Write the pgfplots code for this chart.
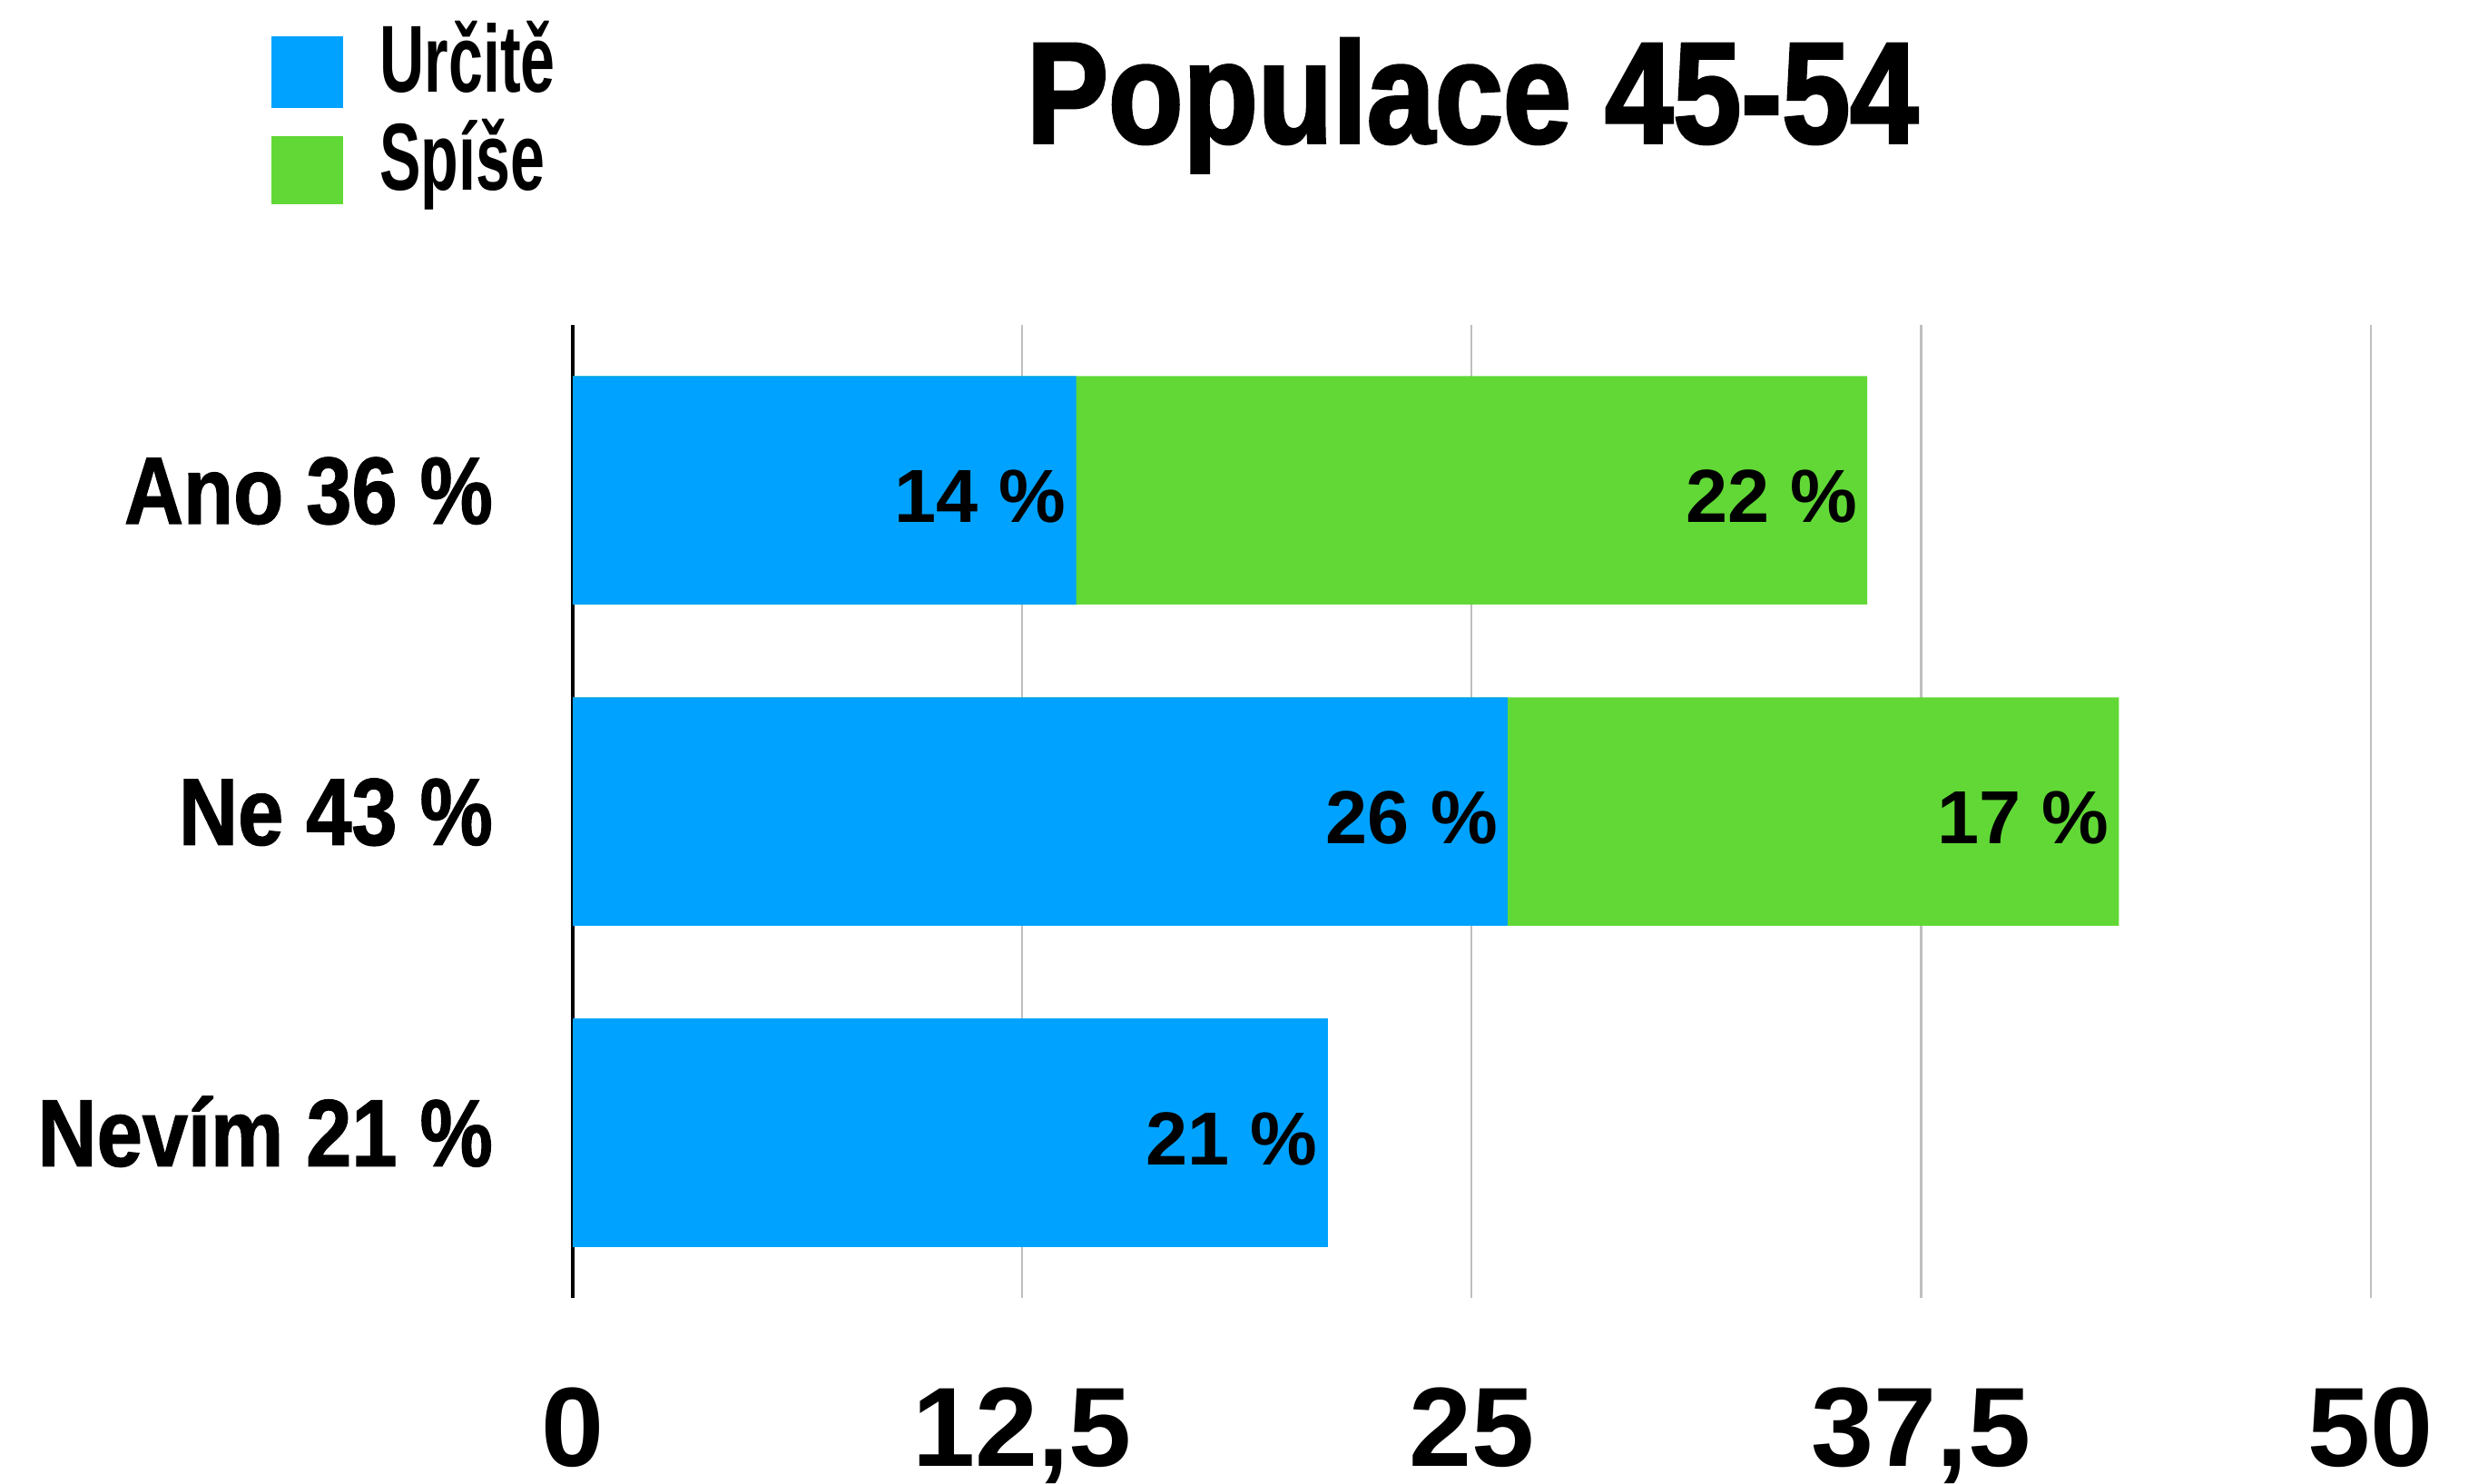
\documentclass[border=0pt]{standalone}
\usepackage{fontspec}
\setmainfont{Liberation Sans}
\newfontfamily\condfont{Liberation Sans}[FakeStretch=0.86, FakeBold=1.2]
\newfontfamily\titfont{Liberation Sans}[FakeStretch=0.85, FakeBold=2]
\newfontfamily\legfont{Liberation Sans}[FakeStretch=0.65]
\usepackage{pgfplots}
\pgfplotsset{compat=1.18}
\usetikzlibrary{calc}
\definecolor{cblue}{HTML}{00A2FF}
\definecolor{cgreen}{HTML}{61D836}
\definecolor{cgrid}{HTML}{BFBFBF}
\begin{document}
\begin{tikzpicture}
\begin{axis}[name=ax, scale only axis, width=566.5pt, height=306.5pt,
  xmin=0, xmax=50, ymin=-0.514, ymax=2.514,
  xbar=0pt, bar shift=0pt, bar width=72pt,
  axis line style={draw=none},
  xtick={0,12.5,25,37.5,50}, xticklabels={0,{12,5},25,{37,5},50},
  xmajorgrids, grid style={cgrid, line width=0.6pt},
  extra x ticks={0}, extra x tick labels={},
  extra x tick style={grid style={black, line width=0.9pt}},
  ytick={0,1,2}, yticklabels={Nevím 21 \%, Ne 43 \%, Ano 36 \%},
  major tick length=0pt,
  xticklabel style={font=\fontsize{35.5}{36}\selectfont\bfseries, anchor=base, inner sep=0pt, yshift=-53pt},
  yticklabel style={font=\fontsize{30}{30}\selectfont\condfont\bfseries, anchor=base east, inner sep=0pt, xshift=-25pt, yshift=-10.5pt},
  point meta=explicit symbolic,
  nodes near coords={\pgfplotspointmeta},
  every node near coord/.append style={font=\fontsize{23.7}{24}\selectfont\bfseries, anchor=east, inner sep=0pt, xshift=-3pt, yshift=-2pt, text=black},
  clip=false,
]
% Spíše drawn as cumulative total (Určitě + Spíše), labelled with its own share
\addplot[fill=cgreen, draw=none] coordinates {(36,2) [22 \%] (43,1) [17 \%]};
% Určitě drawn on top
\addplot[fill=cblue, draw=none] coordinates {(14,2) [14 \%] (26,1) [26 \%] (21,0) [21 \%]};
\end{axis}
\fill[cblue] ($(ax.south west)+(-95pt,375pt)$) rectangle ++(22.5pt,22.5pt);
\fill[cgreen] ($(ax.south west)+(-95pt,344.5pt)$) rectangle ++(22.5pt,21.5pt);
\node[anchor=base west, inner sep=0pt, font=\fontsize{30}{30}\selectfont\legfont\bfseries] at ($(ax.south west)+(-61pt,380pt)$) {Určitě};
\node[anchor=base west, inner sep=0pt, font=\fontsize{30}{30}\selectfont\legfont\bfseries] at ($(ax.south west)+(-61pt,349pt)$) {Spíše};
\node[anchor=base, inner sep=0pt, font=\fontsize{45.4}{46}\selectfont\titfont\bfseries] at ($(ax.south west)+(283.5pt,364pt)$) {Populace 45-54};
\pgfresetboundingbox
\path ($(ax.south west)+(-180.5pt,-58.5pt)$) rectangle ($(ax.south west)+(603.5pt,409pt)$);
\end{tikzpicture}
\end{document}
